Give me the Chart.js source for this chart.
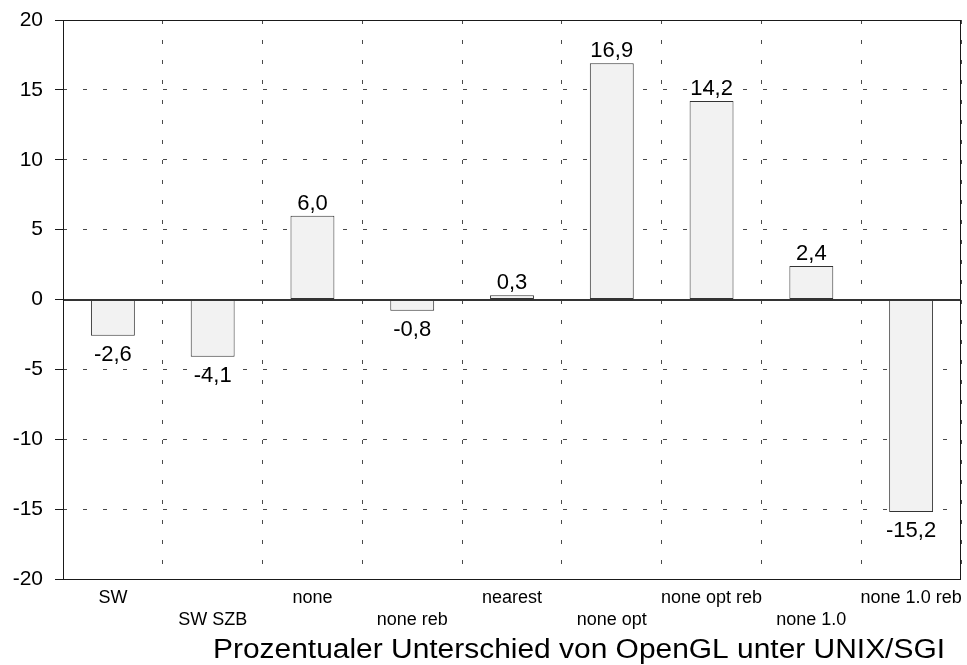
<!DOCTYPE html>
<html>
<head>
<meta charset="utf-8">
<script src="https://cdn.jsdelivr.net/npm/chart.js@4/dist/chart.umd.min.js"></script>
<style>
    html, body { margin: 0; padding: 0; background: #fff; }
    #wrap { width: 967px; height: 665px; position: relative; }
</style>
</head>
<body>
<div id="wrap"><canvas id="chart"></canvas></div>
<script>
// Chart data
const categories = ['SW', 'SW SZB', 'none', 'none reb', 'nearest', 'none opt', 'none opt reb', 'none 1.0', 'none 1.0 reb'];
const values = [-2.6, -4.1, 6.0, -0.8, 0.3, 16.9, 14.2, 2.4, -15.2];
const yMin = -20;
const yMax = 20;
const yStep = 5;
const chartTitle = 'Prozentualer Unterschied von OpenGL unter UNIX/SGI';

const FONT = "'Liberation Sans', Arial, sans-serif";
const GRID = '#4a4a4a';
const LINE = '#1a1a1a';

// Value labels at the end of each bar (German decimal comma)
const valueLabels = {
    id: 'valueLabels',
    afterDatasetsDraw(chart) {
        const ctx = chart.ctx;
        const meta = chart.getDatasetMeta(0);
        ctx.save();
        ctx.font = '22px ' + FONT;
        ctx.fillStyle = '#000';
        ctx.textAlign = 'center';
        ctx.textBaseline = 'alphabetic';
        meta.data.forEach((bar, i) => {
            const v = values[i];
            const txt = v.toFixed(1).replace('.', ',');
            if (v >= 0) {
                ctx.fillText(txt, bar.x, bar.y - 6);
            } else {
                ctx.fillText(txt, bar.x, bar.y + 25);
            }
        });
        ctx.restore();
    }
};

// Zero line, solid frame round the plot area and the bottom caption
const frameAndCaption = {
    id: 'frameAndCaption',
    beforeDatasetsDraw(chart) {
        const ctx = chart.ctx;
        const a = chart.chartArea;
        const y0 = Math.round(chart.scales.y.getPixelForValue(0)) + 0.5;
        ctx.save();
        ctx.strokeStyle = '#333';
        ctx.lineWidth = 1;
        ctx.beginPath();
        ctx.moveTo(a.left, y0);
        ctx.lineTo(a.right, y0);
        ctx.stroke();
        ctx.restore();
    },
    afterDraw(chart) {
        const ctx = chart.ctx;
        const a = chart.chartArea;
        ctx.save();
        ctx.strokeStyle = LINE;
        ctx.lineWidth = 1;
        ctx.setLineDash([]);
        ctx.strokeRect(Math.round(a.left) + 0.5, Math.round(a.top) + 0.5,
            Math.round(a.right - a.left) - 1, Math.round(a.bottom - a.top));

        // caption, a little wider than the plain font
        ctx.font = '27px ' + FONT;
        ctx.fillStyle = '#000';
        ctx.textAlign = 'center';
        ctx.textBaseline = 'alphabetic';
        const w = ctx.measureText(chartTitle).width;
        const sx = 732 / w;
        ctx.translate((a.left + a.right) / 2 + 67, 658);
        ctx.scale(sx, 1);
        ctx.fillText(chartTitle, 0, 0);
        ctx.restore();
    }
};

function createChart() {
    const ctx = document.getElementById('chart').getContext('2d');

    new Chart(ctx, {
        type: 'bar',
        data: {
            labels: categories,
            datasets: [{
                data: values,
                backgroundColor: '#f2f2f2',
                borderColor: '#333333',
                borderWidth: 1,
                borderSkipped: false,
                categoryPercentage: 1.0,
                barPercentage: 0.44
            }]
        },
        options: {
            responsive: true,
            maintainAspectRatio: false,
            animation: false,
            layout: {
                padding: { top: 20, right: 6, left: 0, bottom: 0 }
            },
            plugins: {
                legend: { display: false },
                tooltip: { enabled: false }
            },
            scales: {
                x: {
                    offset: true,
                    grid: {
                        offset: true,
                        color: GRID,
                        lineWidth: 1,
                        drawTicks: false
                    },
                    border: {
                        display: false,
                        dash: [4, 16]
                    },
                    ticks: {
                        color: '#000',
                        font: { family: FONT, size: 18, lineHeight: '22px' },
                        padding: 8,
                        maxRotation: 0,
                        autoSkip: false,
                        // stagger the labels on two rows
                        callback: function(value, index) {
                            const label = categories[index];
                            return index % 2 === 0 ? [label] : ['', label];
                        }
                    },
                    afterFit: function(scale) {
                        scale.height = 86;
                        scale.paddingLeft = 0;
                        scale.paddingRight = 0;
                    }
                },
                y: {
                    min: yMin,
                    max: yMax,
                    grid: {
                        color: function(context) {
                            return context.tick && context.tick.value === 0 ? '#333' : GRID;
                        },
                        tickColor: LINE,
                        lineWidth: 1,
                        tickLength: 8,
                        tickBorderDash: []
                    },
                    border: {
                        display: false,
                        dash: function(context) {
                            return context.tick && context.tick.value === 0 ? [] : [4, 16];
                        }
                    },
                    ticks: {
                        stepSize: yStep,
                        color: '#000',
                        font: { family: FONT, size: 21 },
                        padding: 12
                    },
                    afterFit: function(scale) {
                        scale.width = 63;
                        scale.paddingTop = 0;
                        scale.paddingBottom = 0;
                    }
                }
            }
        },
        plugins: [valueLabels, frameAndCaption]
    });
}

createChart();
</script>
</body>
</html>
